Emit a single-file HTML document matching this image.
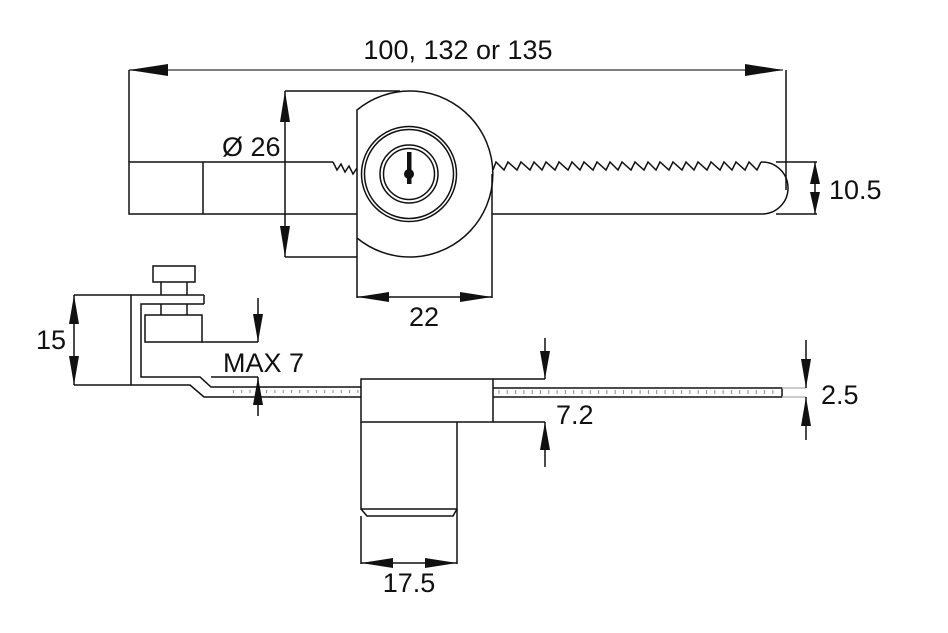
<!DOCTYPE html>
<html><head><meta charset="utf-8"><style>
html,body{margin:0;padding:0;background:#fff;}
svg{display:block;}
text{font-family:"Liberation Sans",Arial,sans-serif;fill:#111;}
</style></head><body>
<svg width="948" height="633" viewBox="0 0 948 633" xmlns="http://www.w3.org/2000/svg">
<defs>
<pattern id="ticks" x="0" y="0" width="8.3" height="10" patternUnits="userSpaceOnUse">
<line x1="1" y1="0" x2="1" y2="5" stroke="#888" stroke-width="1"/>
</pattern>
</defs>
<g fill="none" stroke="#111" stroke-width="1.5">
<line x1="129" y1="70" x2="783" y2="70" stroke="#555"/>
<line x1="129" y1="70" x2="129" y2="162"/>
<line x1="786" y1="70" x2="786" y2="190"/>
<rect x="129" y="162" width="74" height="52"/>
<line x1="203" y1="162" x2="333" y2="162"/>
<line x1="203" y1="214" x2="357" y2="214"/>
<polyline points="333,162 337,170 341,164 345,172 349,166 353,174 357,168"/>
<polyline points="493,170 496,162 504,170 508,162 517,170 521,162 530,170 534,162 542,170 546,162 555,170 559,162 568,170 572,162 580,170 584,162 593,170 597,162 606,170 610,162 618,170 622,162 631,170 635,162 644,170 648,162 656,170 660,162 669,170 673,162 682,170 686,162 694,170 698,162 707,170 711,162 720,170 724,162 732,170 736,162 745,170 749,162 757,170 761,162"/>
<path d="M761,162 A26,26 0 0 1 763,214 L492,214"/>
<path d="M357,110 A83,83 0 1 1 357,238 Z" fill="#fff"/>
<circle cx="409" cy="174" r="47.5"/>
<circle cx="409" cy="174" r="44.5"/>
<circle cx="409" cy="174" r="29"/>
<circle cx="409" cy="174" r="25.5"/>
<line x1="285" y1="91" x2="400" y2="91"/>
<line x1="285" y1="257" x2="357" y2="257"/>
<line x1="285" y1="91" x2="285" y2="257"/>
<line x1="357" y1="238" x2="357" y2="298"/>
<line x1="492" y1="174" x2="492" y2="298"/>
<line x1="357" y1="297" x2="492" y2="297"/>
<line x1="776" y1="162" x2="817" y2="162"/>
<line x1="776" y1="214" x2="817" y2="214"/>
<line x1="815" y1="162" x2="815" y2="214"/>

<rect x="153" y="266" width="42" height="16"/>
<line x1="161" y1="282" x2="161" y2="295"/>
<line x1="187" y1="282" x2="187" y2="295"/>
<line x1="161" y1="304" x2="161" y2="315"/>
<line x1="187" y1="304" x2="187" y2="315"/>
<polyline points="204,304 141,304 141,377 200,377 211,387 361,387"/>
<polyline points="204,295 204,304"/>
<polyline points="204,295 131,295 131,385 190,385 204,397 361,397"/>
<rect x="145" y="315" width="57" height="27"/>
<line x1="74" y1="295" x2="131" y2="295"/>
<line x1="74" y1="385" x2="131" y2="385"/>
<line x1="74" y1="295" x2="74" y2="385"/>
<line x1="202" y1="342" x2="258" y2="342"/>
<line x1="258" y1="298" x2="258" y2="342"/>
<line x1="211" y1="377" x2="258" y2="377"/>
<line x1="258" y1="377" x2="258" y2="416"/>
<rect x="361" y="379" width="132" height="43" fill="#fff"/>
<polyline points="361,422 361,509 457,509 457,422"/>
<polyline points="361,509 367,516 453,516 457,509"/>
<polyline points="493,388 782,388 782,397 493,397"/>
<line x1="782" y1="388" x2="806" y2="388" stroke="#bbb"/>
<line x1="782" y1="397" x2="806" y2="397" stroke="#bbb"/>
<line x1="493" y1="379" x2="545" y2="379"/>
<line x1="545" y1="338" x2="545" y2="379"/>
<line x1="493" y1="422" x2="545" y2="422"/>
<line x1="545" y1="422" x2="545" y2="467"/>
<line x1="806" y1="340" x2="806" y2="388"/>
<line x1="806" y1="397" x2="806" y2="440"/>
<line x1="361" y1="516" x2="361" y2="564"/>
<line x1="457" y1="509" x2="457" y2="564"/>
<line x1="361" y1="563" x2="457" y2="563"/>
</g>
<rect x="230" y="388" width="130" height="5" fill="url(#ticks)"/>
<rect x="495" y="389" width="285" height="5" fill="url(#ticks)"/>
<rect x="407" y="152" width="4.5" height="32" fill="#111"/>
<circle cx="409" cy="174" r="5" fill="#111"/>
<g fill="#111">
<polygon points="129,70 168,64 168,76"/>
<polygon points="783,70 745,64 745,76"/>
<polygon points="285,91 280,122 290,122"/>
<polygon points="285,257 280,226 290,226"/>
<polygon points="357,297 389,292 389,302"/>
<polygon points="492,297 460,292 460,302"/>
<polygon points="815,162 810,184 820,184"/>
<polygon points="815,214 810,192 820,192"/>
<polygon points="74,295 69,324 79,324"/>
<polygon points="74,385 69,356 79,356"/>
<polygon points="258,342 253,314 263,314"/>
<polygon points="258,377 253,405 263,405"/>
<polygon points="545,379 540,351 550,351"/>
<polygon points="545,422 540,450 550,450"/>
<polygon points="806,388 801,359 811,359"/>
<polygon points="806,397 801,426 811,426"/>
<polygon points="361,563 393,558 393,568"/>
<polygon points="457,563 425,558 425,568"/>
</g>
<text x="458" y="59" font-size="27" text-anchor="middle">100, 132 or 135</text>
<text x="222" y="156" font-size="27">Ø 26</text>
<text x="424" y="326" font-size="27" text-anchor="middle">22</text>
<text x="829" y="199" font-size="27">10.5</text>
<text x="36" y="349" font-size="27">15</text>
<text x="223" y="372" font-size="27">MAX 7</text>
<text x="556" y="424" font-size="27">7.2</text>
<text x="821" y="404" font-size="27">2.5</text>
<text x="409" y="592" font-size="27" text-anchor="middle">17.5</text>
</svg>
</body></html>
